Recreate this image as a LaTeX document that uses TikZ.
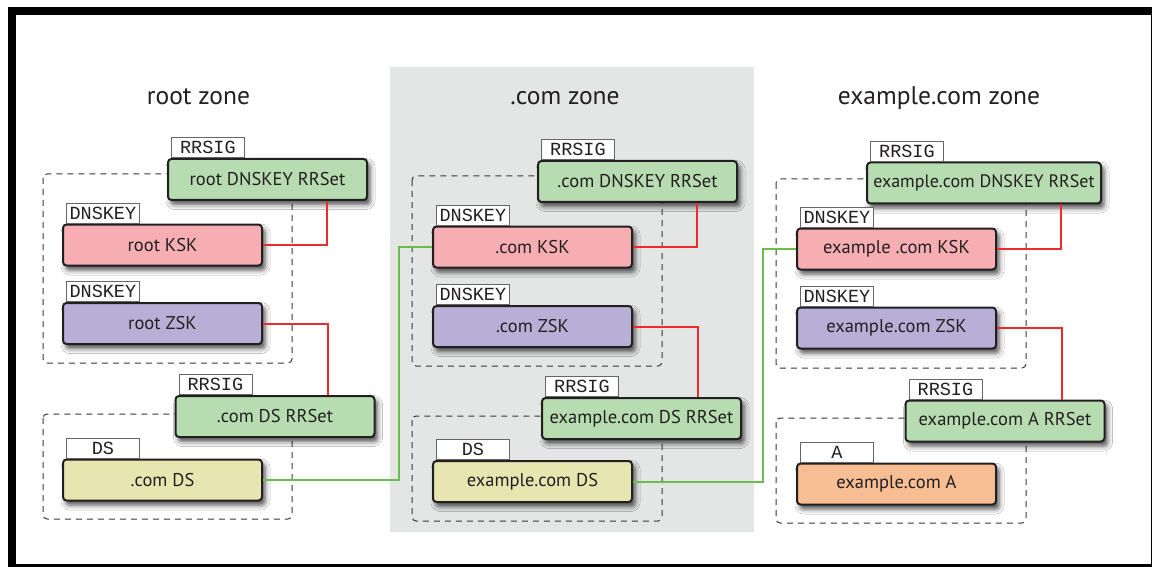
\documentclass[tikz,border=0pt]{standalone}
\usepackage{fontspec}
\setmainfont{PT Sans}
\setmonofont{Liberation Mono}
\usetikzlibrary{shadows.blur}

\definecolor{rrsetgreen}{HTML}{B7DCB1}
\definecolor{kskpink}{HTML}{F6AEB3}
\definecolor{zskpurple}{HTML}{B8AFD6}
\definecolor{dsyellow}{HTML}{E7E5B0}
\definecolor{arecord}{HTML}{F6BE92}
\definecolor{zonegray}{HTML}{E4E5E5}
\definecolor{sigred}{HTML}{EE2A2E}
\definecolor{trustgreen}{HTML}{6ABF4B}
\definecolor{ink}{HTML}{231F20}

\tikzset{
  rec/.style={draw=ink, line width=2pt, rounded corners=3.5pt,
    minimum width=199pt, minimum height=41pt, inner sep=0pt,
    font=\fontsize{18.5}{22}\selectfont, text=ink,
    blur shadow={shadow xshift=3pt, shadow yshift=-4.5pt,
      shadow blur radius=5pt, shadow opacity=70}},
  rrset/.style={rec, fill=rrsetgreen},
  ksk/.style={rec, fill=kskpink},
  zsk/.style={rec, fill=zskpurple},
  dsrec/.style={rec, fill=dsyellow},
  arec/.style={rec, fill=arecord},
  tag/.style={draw=black!60, line width=0.8pt, fill=white,
    minimum width=73pt, minimum height=20pt, inner sep=0pt,
    anchor=south west, font=\ttfamily\fontsize{18.5}{20}\selectfont, text=ink},
  zonetitle/.style={anchor=base, font=\fontsize{25.5}{30}\selectfont, text=ink},
  keyset/.style={draw=ink!90, line width=1pt, dash pattern=on 6pt off 5pt,
    rounded corners=4pt},
  sig/.style={draw=sigred, line width=2pt},
  trust/.style={draw=trustgreen, line width=2pt},
}

\begin{document}
\begin{tikzpicture}[x=1pt, y=-1pt]
\useasboundingbox (0,0) rectangle (1152,567);
\fill[white] (0,0) rectangle (1152,567);

% middle zone background
\fill[zonegray] (390,67) rectangle (754,532);

% zone titles
\node[zonetitle] (tRoot) at (198.5,105) {root zone};
\node[zonetitle] (tCom) at (565,105) {.com zone};
\node[zonetitle] (tEx) at (939,105) {example.com zone};

% signed key sets and signed record sets (dashed groups)
\draw[keyset] (43,174) rectangle (292,363);
\draw[keyset] (43,414) rectangle (292,519);
\draw[keyset] (412,176) rectangle (662,366);
\draw[keyset] (412,416) rectangle (662,521);
\draw[keyset] (776,179) rectangle (1026,368);
\draw[keyset] (776,418) rectangle (1026,523);

% ---- root zone ----
\node[rrset] (rootRR) at (267.5,179.5) {root DNSKEY RRSet};
\node[ksk]   (rootKSK) at (162.5,245) {root KSK};
\node[zsk]   (rootZSK) at (162.5,323.5) {root ZSK};
\node[rrset] (comDSRR) at (275,416.5) {.com DS RRSet};
\node[dsrec] (comDS) at (162.5,480) {.com DS};

% ---- .com zone ----
\node[rrset] (comRR) at (637.5,181.5) {.com DNSKEY RRSet};
\node[ksk]   (comKSK) at (532.5,247) {.com KSK};
\node[zsk]   (comZSK) at (532.5,326.5) {.com ZSK};
\node[rrset] (exDSRR) at (641.5,418.5) {example.com DS RRSet};
\node[dsrec] (exDS) at (532.5,481.5) {example.com DS};

% ---- example.com zone ----
\node[rrset, minimum width=234pt, font=\fontsize{18}{22}\selectfont] (exRR) at (984,183) {example.com DNSKEY RRSet};
\node[ksk]   (exKSK) at (896.5,249) {example .com KSK};
\node[zsk]   (exZSK) at (896.5,328) {example.com ZSK};
\node[rrset] (exARR) at (1005,421) {example.com A RRSet};
\node[arec]  (exA) at (896.5,484) {example.com A};

% record type tags
\node[tag] (gRootRR) at ([xshift=4pt]rootRR.north west) {RRSIG};
\node[tag] (gRootKSK) at ([xshift=4pt]rootKSK.north west) {DNSKEY};
\node[tag] (gRootZSK) at ([xshift=4pt]rootZSK.north west) {DNSKEY};
\node[tag] (gComDSRR) at ([xshift=4pt]comDSRR.north west) {RRSIG};
\node[tag] (gComDS) at ([xshift=4pt]comDS.north west) {DS};

\node[tag] (gComRR) at ([xshift=4pt]comRR.north west) {RRSIG};
\node[tag] (gComKSK) at ([xshift=4pt]comKSK.north west) {DNSKEY};
\node[tag] (gComZSK) at ([xshift=4pt]comZSK.north west) {DNSKEY};
\node[tag] (gExDSRR) at ([xshift=4pt]exDSRR.north west) {RRSIG};
\node[tag] (gExDS) at ([xshift=4pt]exDS.north west) {DS};

\node[tag] (gExRR) at ([xshift=4pt]exRR.north west) {RRSIG};
\node[tag] (gExKSK) at ([xshift=4pt]exKSK.north west) {DNSKEY};
\node[tag] (gExZSK) at ([xshift=4pt]exZSK.north west) {DNSKEY};
\node[tag] (gExARR) at ([xshift=4pt]exARR.north west) {RRSIG};
\node[tag] (gExA) at ([xshift=4pt]exA.north west) {A};

% signatures
\draw[sig] (rootKSK.east) -| ([xshift=59.5pt]rootRR.south);
\draw[sig] (rootZSK.east) -| ([xshift=53pt]comDSRR.north);
\draw[sig] (comKSK.east) -| ([xshift=59.5pt]comRR.south);
\draw[sig] (comZSK.east) -| ([xshift=56.5pt]exDSRR.north);
\draw[sig] (exKSK.east) -| ([xshift=77pt]exRR.south);
\draw[sig] (exZSK.east) -| ([xshift=57pt]exARR.north);

% chain of trust
\draw[trust] (comDS.east) -- ++(136,0) |- (comKSK.west);
\draw[trust] (exDS.east) -- ++(130,0) |- (exKSK.west);

% frame
\draw[line width=7.5pt] (11.75,11) rectangle (1155,568);
\end{tikzpicture}
\end{document}
